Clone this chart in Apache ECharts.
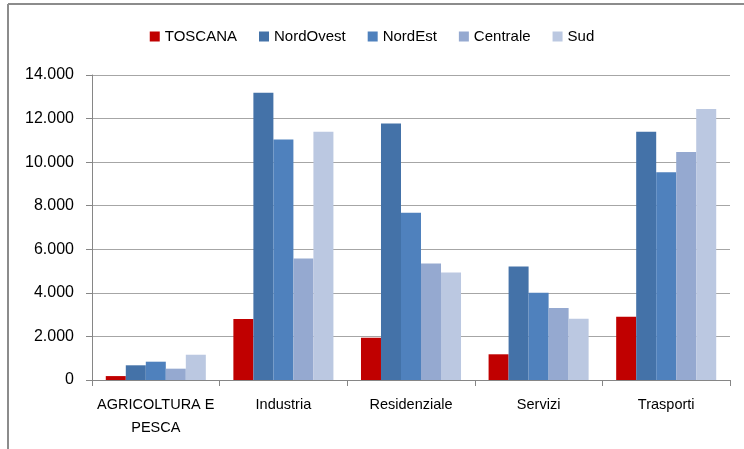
<!DOCTYPE html>
<html><head><meta charset="utf-8">
<script src="https://cdn.jsdelivr.net/npm/echarts@6/dist/echarts.min.js"></script>
<style>html,body{margin:0;padding:0;background:#fff}#c{width:744px;height:449px}</style>
</head><body><div id="c"></div>
<script>
const categories = ['AGRICOLTURA E\nPESCA', 'Industria', 'Residenziale', 'Servizi', 'Trasporti'];
const seriesNames = ['TOSCANA', 'NordOvest', 'NordEst', 'Centrale', 'Sud'];
const toscana   = [180, 2800, 1940, 1180, 2900];
const nordOvest = [675, 13180, 11775, 5215, 11390];
const nordEst   = [840, 11040, 7675, 4005, 9540];
const centrale  = [520, 5580, 5350, 3300, 10460];
const sud       = [1160, 11390, 4940, 2810, 12445];
const yTicks = { min: 0, max: 14000, interval: 2000 };

const values = [toscana, nordOvest, nordEst, centrale, sud];
const colors = ['#C00000', '#4472A8', '#4F81BD', '#95A9D0', '#BBC8E1'];
const font = 'Liberation Sans, Arial, sans-serif';

const chart = echarts.init(document.getElementById('c'));
chart.setOption({
  animation: false,
  textStyle: { fontFamily: font },
  legend: {
    top: 24, left: 'center',
    itemWidth: 10, itemHeight: 10, itemGap: 22,
    icon: 'rect',
    textStyle: { fontSize: 15, color: '#000', fontFamily: font },
    data: seriesNames
  },
  grid: { left: 92, right: 14, top: 75, bottom: 69, containLabel: false },
  xAxis: {
    type: 'category', data: categories,
    axisLine: { lineStyle: { color: '#868686', width: 1 } },
    axisTick: { show: true, length: 6, lineStyle: { color: '#868686' } },
    axisLabel: { fontSize: 14.5, color: '#000', lineHeight: 23, margin: 13, interval: 0 }
  },
  yAxis: {
    type: 'value', min: yTicks.min, max: yTicks.max, interval: yTicks.interval,
    axisLine: { show: true, lineStyle: { color: '#868686' } },
    axisTick: { show: true, length: 6, lineStyle: { color: '#868686' } },
    splitLine: { lineStyle: { color: '#A6A6A6', width: 1 } },
    axisLabel: {
      fontSize: 16, color: '#000', margin: 18,
      formatter: v => v === 0 ? '0' : v.toLocaleString('de-DE', { minimumFractionDigits: 0 })
    }
  },
  graphic: [
    { type: 'line', shape: { x1: 8, y1: 4, x2: 744, y2: 4 }, style: { stroke: '#8c8c8c', lineWidth: 2 } },
    { type: 'line', shape: { x1: 8, y1: 4, x2: 8, y2: 449 }, style: { stroke: '#8c8c8c', lineWidth: 2 } }
  ],
  series: seriesNames.map((n, i) => ({
    name: n, type: 'bar', data: values[i],
    barGap: '0%', barCategoryGap: '21.6%',
    itemStyle: { color: colors[i] }
  }))
});
</script></body></html>
